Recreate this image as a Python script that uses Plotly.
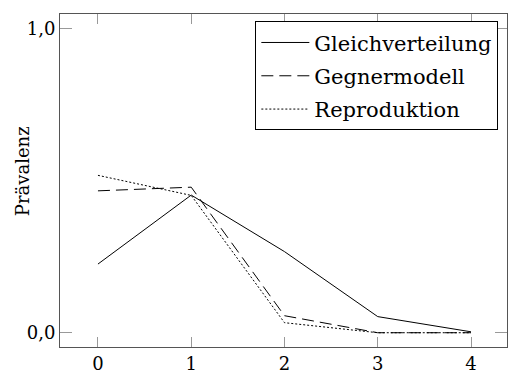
import plotly.graph_objects as go

# Round index on the x axis
runden = [0, 1, 2, 3, 4]

# Prevalence per strategy
gleichverteilung = [0.226, 0.453, 0.267, 0.053, 0.003]
gegnermodell = [0.467, 0.479, 0.056, 0.0, 0.0]
reproduktion = [0.518, 0.452, 0.033, 0.0, 0.0]

serien = [
    ("Gleichverteilung", gleichverteilung, "solid"),
    ("Gegnermodell", gegnermodell, "12px,6px"),
    ("Reproduktion", reproduktion, "2px,2px"),
]

y_ticks = [0.0, 1.0]
x_ticks = runden

schrift = dict(family="DejaVu Serif", size=18, color="black")
legenden_schrift = dict(family="DejaVu Serif", size=21, color="black")

fig = go.Figure()
for i, (name, werte, dash) in enumerate(serien):
    fig.add_trace(go.Scatter(
        x=runden, y=werte, mode="lines", name=name,
        line=dict(color="black", width=1, dash=dash),
        legendgroup=f"g{i}",
    ))

fig.update_layout(
    width=508, height=379,
    margin=dict(l=60, r=1, t=14, b=32),
    plot_bgcolor="white", paper_bgcolor="white",
    font=schrift,
    separators=",.",
    showlegend=True,
    legend=dict(
        x=0.437, y=0.978, xanchor="left", yanchor="top",
        bgcolor="white", bordercolor="black", borderwidth=1,
        font=legenden_schrift, tracegroupgap=3,
        itemwidth=48,
    ),
    xaxis=dict(
        range=[-0.407, 4.386], tickvals=x_ticks,
        ticks="inside", ticklen=10, tickcolor="#999999", tickwidth=1,
        showline=True, linecolor="#555555", linewidth=1, mirror="allticks",
        showgrid=False, zeroline=False,
        tickfont=schrift,
    ),
    yaxis=dict(
        range=[-0.047, 1.049], tickvals=y_ticks, tickformat=".1f",
        ticks="inside", ticklen=12, tickcolor="#999999", tickwidth=1,
        showline=True, linecolor="#555555", linewidth=1, mirror="allticks",
        showgrid=False, zeroline=False,
        tickfont=schrift,
    ),
    annotations=[dict(
        text="Prävalenz", textangle=-90,
        xref="paper", yref="paper", x=-0.085, y=0.528,
        xanchor="center", yanchor="middle", showarrow=False,
        font=schrift,
    )],
)

fig.write_html("out.html")
